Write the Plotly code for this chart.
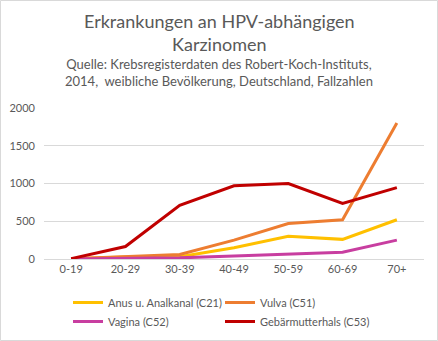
import plotly.graph_objects as go

categories = ["0-19", "20-29", "30-39", "40-49", "50-59", "60-69", "70+"]
anus = [2, 25, 30, 150, 300, 260, 520]
vulva = [3, 30, 60, 250, 470, 520, 1800]
vagina = [1, 10, 15, 40, 70, 90, 250]
cervix = [5, 165, 710, 970, 1000, 735, 945]

series = [
    ("Anus u. Analkanal (C21)", anus, "#FFC000"),
    ("Vulva (C51)", vulva, "#ED7D31"),
    ("Vagina (C52)", vagina, "#C83EA0"),
    ("Gebärmutterhals (C53)", cervix, "#C00000"),
]

W, H = 438, 341
ml, mr, mt, mb = 44, 14, 108, 82
pw, ph = W - ml - mr, H - mt - mb

fig = go.Figure()
for name, vals, col in series:
    fig.add_trace(go.Scatter(x=categories, y=vals, name=name, mode="lines",
                             line=dict(color=col, width=3)))

font = "Lato, 'Open Sans', sans-serif"
fig.update_layout(
    width=W, height=H,
    margin=dict(l=ml, r=mr, t=mt, b=mb, autoexpand=False),
    paper_bgcolor="white", plot_bgcolor="white",
    font=dict(family=font, color="#595959", size=11),
    showlegend=True,
    legend=dict(orientation="h", x=(68 - ml) / pw, y=(H - mb - 288) / ph,
                xanchor="left", yanchor="top", entrywidth=107, entrywidthmode="pixels",
                font=dict(size=11, color="#595959"), itemwidth=30, tracegroupgap=0),
    xaxis=dict(range=[-0.5, 6.5], showgrid=False, showline=True, linecolor="#D9D9D9",
               ticks="", tickfont=dict(size=11, color="#595959")),
    yaxis=dict(range=[0, 2000], dtick=500, showgrid=True, gridcolor="#D9D9D9",
               zeroline=False, showline=False, ticks="", ticklabelstandoff=8,
               tickfont=dict(size=11, color="#595959")),
)

fig.add_annotation(text="Erkrankungen an HPV-abhängigen<br>Karzinomen", xref="paper", yref="paper",
                   x=(219 - ml) / pw, y=1 + (mt - 8) / ph, xanchor="center", yanchor="top",
                   showarrow=False, font=dict(size=18, color="#595959", family=font))
fig.add_annotation(text="Quelle: Krebsregisterdaten des Robert-Koch-Instituts,<br>2014,  weibliche Bevölkerung, Deutschland, Fallzahlen",
                   xref="paper", yref="paper",
                   x=(219 - ml) / pw, y=1 + (mt - 54) / ph, xanchor="center", yanchor="top",
                   showarrow=False, font=dict(size=13, color="#595959", family=font))

fig.add_shape(type="rect", xref="paper", yref="paper",
              x0=-(ml - 0.5) / pw, x1=1 + (mr - 0.5) / pw,
              y0=-(mb - 0.5) / ph, y1=1 + (mt - 0.5) / ph,
              line=dict(color="#D9D9D9", width=1), layer="below")

fig.write_html("out.html")
